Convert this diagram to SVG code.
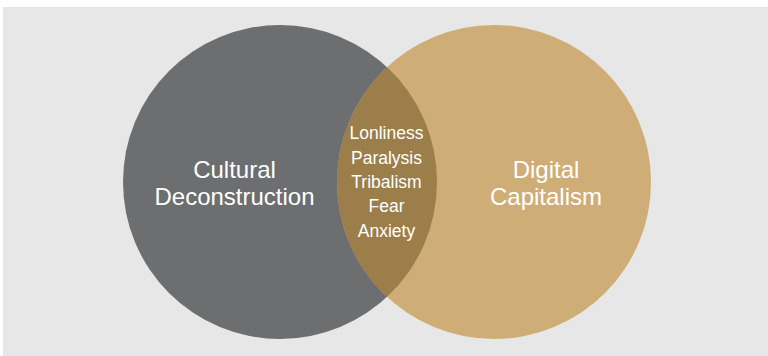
<svg xmlns="http://www.w3.org/2000/svg" width="768" height="356" viewBox="0 0 768 356">
  <style>
    .lbl { font-family: "Liberation Sans", Arial, sans-serif; fill: #ffffff; text-anchor: middle; }
    .big { font-size: 24px; }
    .small { font-size: 17.5px; }
  </style>
  <rect x="0" y="0" width="768" height="356" fill="#ffffff"/>
  <rect x="3" y="7" width="765" height="349" fill="#e6e7e6"/>
  <g id="connectors"></g>
  <g id="cultural-deconstruction">
    <circle cx="280" cy="182" r="157" fill="#6d6e70"/>
  </g>
  <g id="digital-capitalism">
    <circle cx="494" cy="182" r="157" fill="#cfad77"/>
  </g>
  <g id="intersection">
    <path d="M387 67.1 A157 157 0 0 1 387 296.9 A157 157 0 0 1 387 67.1 Z" fill="#9c7e4a"/>
  </g>
  <g id="label-left">
    <text class="lbl big" x="234.5" y="178">Cultural</text>
    <text class="lbl big" x="234.5" y="205">Deconstruction</text>
  </g>
  <g id="label-right">
    <text class="lbl big" x="546" y="178">Digital</text>
    <text class="lbl big" x="546" y="204.5">Capitalism</text>
  </g>
  <g id="label-middle">
    <text class="lbl small" x="386.5" y="139">Lonliness</text>
    <text class="lbl small" x="386.5" y="164">Paralysis</text>
    <text class="lbl small" x="386.5" y="188">Tribalism</text>
    <text class="lbl small" x="386.5" y="212">Fear</text>
    <text class="lbl small" x="386.5" y="237">Anxiety</text>
  </g>
</svg>
